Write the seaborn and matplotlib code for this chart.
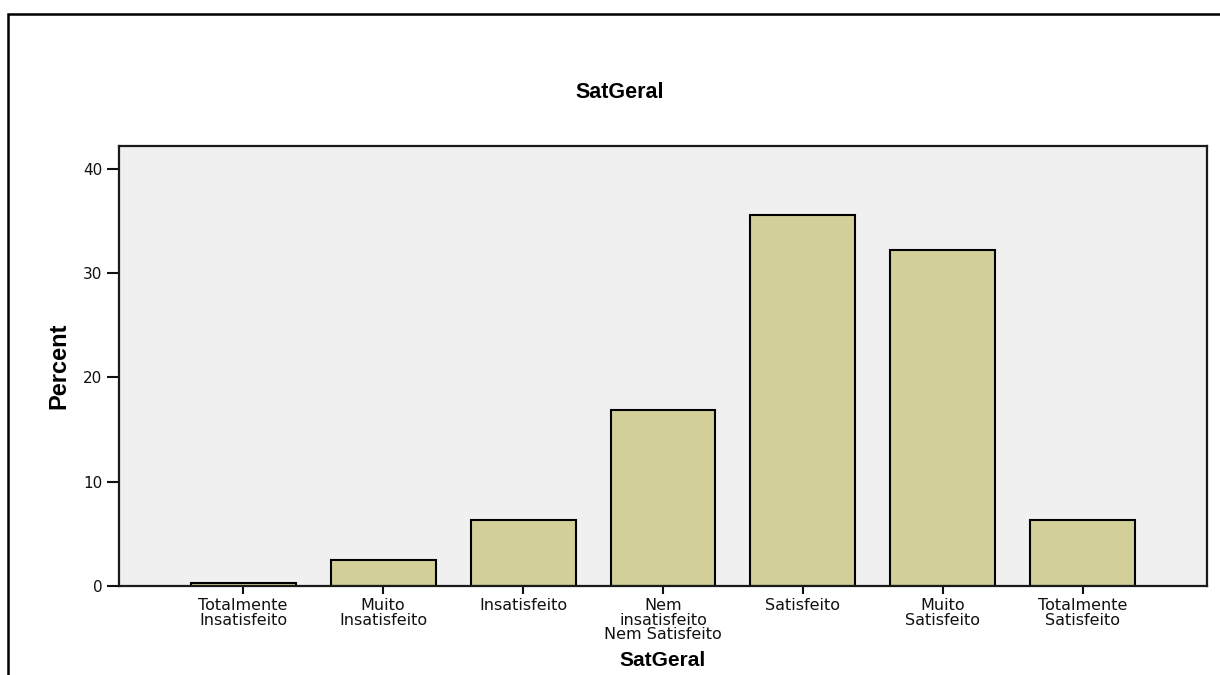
import matplotlib
matplotlib.use("Agg")
import matplotlib.pyplot as plt
import seaborn as sns
import pandas as pd
from matplotlib.patches import Rectangle

categories = ["Totalmente\nInsatisfeito", "Muito\nInsatisfeito", "Insatisfeito",
              "Nem\ninsatisfeito\nNem Satisfeito", "Satisfeito", "Muito\nSatisfeito",
              "Totalmente\nSatisfeito"]
percent = [0.25, 2.5, 6.33, 16.9, 35.55, 32.25, 6.33]
y_ticks = [0, 10, 20, 30, 40]

sns.set_theme(style="white")
plt.rcParams['font.family'] = ['DejaVu Sans']
plt.rcParams['text.color'] = 'black'
plt.rcParams['axes.labelcolor'] = 'black'

df = pd.DataFrame({"cat": categories, "pct": percent})

fig = plt.figure(figsize=(12.2, 6.75), dpi=100)
ax = fig.add_axes([119/1220, 89/675, (1207-119)/1220, (586-146)/675])

sns.barplot(data=df, x="cat", y="pct", order=categories, color="#d3cf98",
            saturation=1, width=0.75, edgecolor="black", linewidth=1.5, ax=ax)

ax.set_facecolor("#f0f0f0")
ax.set_xlim(-0.886, 6.886)
ax.set_ylim(0, 42.2)
ax.set_yticks(y_ticks)
ax.set_yticklabels([str(v) for v in y_ticks], fontsize=11, color="#111111")
for lab in ax.get_xticklabels():
    lab.set_fontsize(11.5)
    lab.set_linespacing(0.95)
    lab.set_color("#111111")
for s in ax.spines.values():
    s.set_linewidth(1.6)
    s.set_color("#1a1a1a")
    s.set_visible(True)
ax.tick_params(axis="y", length=9, width=1.5, pad=3, left=True, color="#111111")
ax.tick_params(axis="x", length=6, width=1.5, pad=3, bottom=True, color="#111111")

ax.set_xlabel("SatGeral", fontsize=15, fontweight="bold", labelpad=6,
              family=["Liberation Sans", "DejaVu Sans"], color="black")
ax.set_ylabel("Percent", fontsize=17, fontweight="bold", labelpad=9,
              family=["Liberation Sans Narrow", "Liberation Sans", "DejaVu Sans"],
              color="black")

fig.text(620/1220, 1 - 93/675, "SatGeral", ha="center", va="center",
         fontsize=15.5, fontweight="bold", family=["Liberation Sans", "DejaVu Sans"],
         color="black")

frame = Rectangle((8/1220, -0.1), 1.2, 1 - 14/675 + 0.1, transform=fig.transFigure,
                  fill=False, edgecolor="black", linewidth=1.8)
fig.patches.append(frame)

fig.savefig("out.png", dpi=100)
